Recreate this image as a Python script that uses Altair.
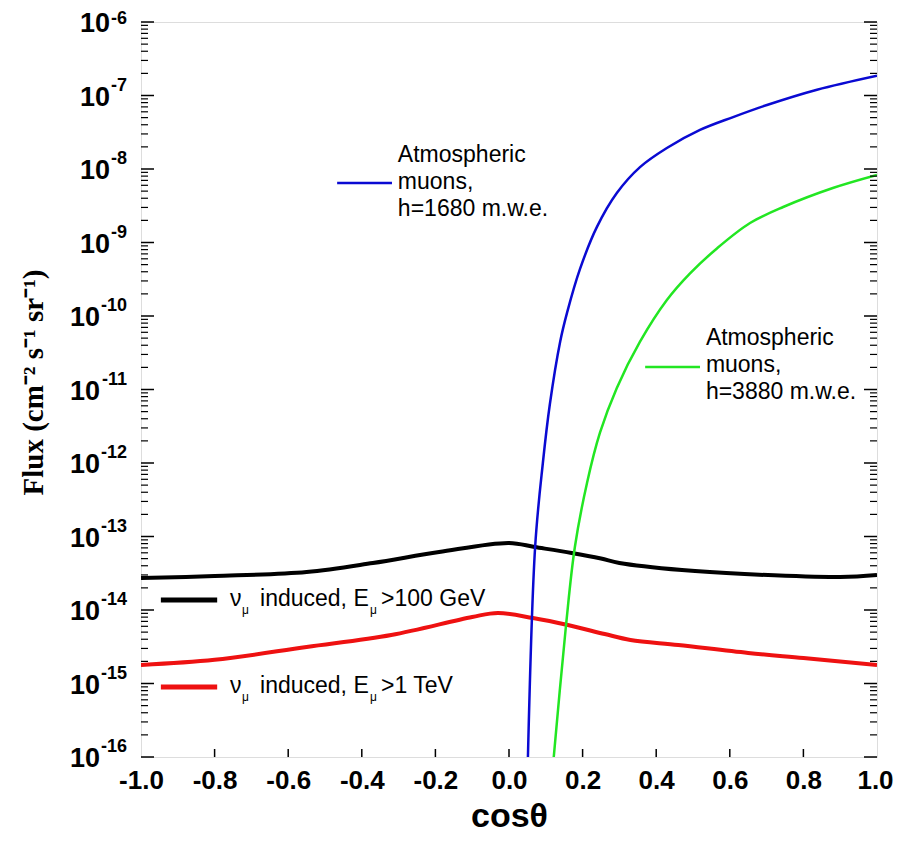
import altair as alt
import pandas as pd

# ---------------- data ----------------
cos_black = [-1.0, -0.8, -0.55, -0.37, -0.19, 0.0, 0.07, 0.17, 0.25, 0.30, 0.47, 0.64, 0.90, 1.0]
flux_black = [2.72e-14, 2.90e-14, 3.29e-14, 4.36e-14, 6.15e-14, 8.17e-14, 7.19e-14,
              5.97e-14, 5.01e-14, 4.37e-14, 3.50e-14, 3.09e-14, 2.81e-14, 2.99e-14]

cos_red = [-1.0, -0.8, -0.55, -0.32, -0.10, -0.03, 0.065, 0.16, 0.26, 0.33, 0.46, 0.65, 0.80, 1.0]
flux_red = [1.79e-15, 2.10e-15, 3.14e-15, 4.57e-15, 8.04e-15, 9.10e-15, 7.78e-15,
            6.25e-15, 4.71e-15, 3.91e-15, 3.34e-15, 2.60e-15, 2.22e-15, 1.79e-15]

cos_blue = [0.050, 0.071, 0.092, 0.111, 0.139, 0.158, 0.193, 0.239, 0.293, 0.356,
            0.429, 0.519, 0.609, 0.701, 0.837, 1.0]
flux_blue = [5.0e-17, 7.19e-14, 1.0e-12, 6.3e-12, 4.47e-11, 1.12e-10, 4.37e-10, 1.63e-9,
             4.71e-9, 1.06e-8, 1.93e-8, 3.40e-8, 5.09e-8, 7.43e-8, 1.20e-7, 1.86e-7]

cos_green = [0.118, 0.155, 0.179, 0.212, 0.247, 0.293, 0.356, 0.429, 0.492, 0.565,
             0.655, 0.745, 0.880, 1.0]
flux_green = [6.3e-17, 6.25e-15, 7.19e-14, 5.35e-13, 2.56e-12, 1.05e-11, 4.47e-11, 1.65e-10,
              3.80e-10, 8.30e-10, 1.84e-9, 3.04e-9, 5.51e-9, 8.3e-9]

x_tick_values = [-1.0, -0.8, -0.6, -0.4, -0.2, 0.0, 0.2, 0.4, 0.6, 0.8, 1.0]
x_inner_ticks = [-0.8, -0.6, -0.4, -0.2, 0.0, 0.2, 0.4, 0.6, 0.8]
exponents = [-16, -15, -14, -13, -12, -11, -10, -9, -8, -7, -6]

# annotation texts
atm_texts = ["Atmospheric\nmuons,\nh=1680 m.w.e.", "Atmospheric\nmuons,\nh=3880 m.w.e."]
atm_text_x = [-0.302, 0.535]
atm_text_y = [1.55e-8, 5.02e-11]
atm_line_x1 = [-0.467, 0.370]
atm_line_x2 = [-0.318, 0.519]
atm_line_y = [6.45e-9, 2.02e-11]
atm_colors = ["#0a0ad2", "#22e622"]

nu_tails = [">100 GeV", ">1 TeV"]
nu_text_x = [-0.758, -0.758]
nu_text_y = [1.41e-14, 9.25e-16]
nu_line_x1 = [-0.946, -0.946]
nu_line_x2 = [-0.793, -0.793]
nu_line_y = [1.37e-14, 8.95e-16]
nu_colors = ["#000000", "#ee1111"]

# ---------------- chart ----------------
W, H = 736, 735
SANS = "Liberation Sans"
SERIF = "Liberation Serif"

xs = alt.Scale(domain=[-1, 1], nice=False, zero=False)
ys = alt.Scale(type="log", domain=[1e-16, 1e-6], nice=False)


def X(field="x"):
    return alt.X(f"{field}:Q", scale=xs)


def Y(field="y"):
    return alt.Y(f"{field}:Q", scale=ys)


def curve(cx, fy, color, width):
    df = pd.DataFrame({"x": cx, "y": fy})
    return alt.Chart(df).mark_line(color=color, strokeWidth=width, clip=True,
                                   interpolate="catmull-rom").encode(x=X(), y=Y())


black_df = pd.DataFrame({"x": cos_black, "y": flux_black})
base = alt.Chart(black_df).mark_line(color="black", strokeWidth=4, clip=True,
                                     interpolate="catmull-rom").encode(
    x=alt.X("x:Q", scale=xs, axis=alt.Axis(
        values=x_tick_values,
        labelExpr="replace(format(datum.value, '.1f'), '\u2212', '-')",
        labelFont=SANS, labelFontWeight="bold", labelFontSize=26, labelColor="black",
        labelPadding=10, labelFlush=False, labelOverlap=False, labelBound=False,
        labelOffset={"condition": {"test": "datum.value == 1", "value": -2}, "value": 0},
        ticks=False, domain=False, grid=False,
        title="cosθ", titleFont=SANS, titleFontWeight="bold", titleFontSize=34,
        titleColor="black", titleY=69, titleBaseline="alphabetic")),
    y=alt.Y("y:Q", scale=ys, axis=alt.Axis(
        labels=False, ticks=False, domain=False, grid=False,
        title="Flux (cm⁻² s⁻¹ sr⁻¹)", titleFont=SERIF, titleFontWeight="bold",
        titleFontSize=29, titleColor="black", titleAngle=270, titleAlign="center",
        titleBaseline="middle", titleX=-108, titleY=360)),
)

red = curve(cos_red, flux_red, "#ee1111", 4)
blue = curve(cos_blue, flux_blue, "#0a0ad2", 2.5)
green = curve(cos_green, flux_green, "#22e622", 2.5)

# y ticks (major at decades, minor at k*10^n), drawn inward on both sides
major_vals = [10.0 ** e for e in exponents]
minor_vals = [k * 10.0 ** e for e in exponents[:-1] for k in range(2, 10)]
maj_df = pd.DataFrame({"y": major_vals})
min_df = pd.DataFrame({"y": minor_vals})
tick_layers = [
    alt.Chart(maj_df).mark_rule(color="black", strokeWidth=1.5).encode(
        y=Y(), x=alt.value(0), x2=alt.value(13)),
    alt.Chart(maj_df).mark_rule(color="black", strokeWidth=1.5).encode(
        y=Y(), x=alt.value(W), x2=alt.value(W - 13)),
    alt.Chart(min_df).mark_rule(color="black", strokeWidth=1.2).encode(
        y=Y(), x=alt.value(0), x2=alt.value(7)),
    alt.Chart(min_df).mark_rule(color="black", strokeWidth=1.2).encode(
        y=Y(), x=alt.value(W), x2=alt.value(W - 7)),
    alt.Chart(pd.DataFrame({"x": x_inner_ticks})).mark_rule(color="black", strokeWidth=1.5).encode(
        x=X(), y=alt.value(H), y2=alt.value(H - 8)),
]

# y labels 10^n drawn as text with superscript exponents
lab_df = pd.DataFrame({"y": major_vals, "e": [str(e) for e in exponents],
                       "nd": [len(str(abs(e))) for e in exponents]})
lab_base = alt.Chart(lab_df)
exp_style = dict(align="right", baseline="alphabetic", font=SANS, fontWeight="bold",
                 fontSize=18, color="black")
exp_layer = lab_base.transform_filter("datum.e != '-6'").mark_text(dy=-5, **exp_style).encode(
    y=Y(), x=alt.value(-14), text="e:N")
exp_top = lab_base.transform_filter("datum.e == '-6'").mark_text(dy=2, **exp_style).encode(
    y=Y(), x=alt.value(-14), text="e:N")
ten1 = lab_base.transform_filter("datum.nd == 1").mark_text(
    align="right", baseline="alphabetic", dy=10, font=SANS, fontWeight="bold",
    fontSize=27, color="black", text="10").encode(y=Y(), x=alt.value(-31))
ten2 = lab_base.transform_filter("datum.nd == 2").mark_text(
    align="right", baseline="alphabetic", dy=10, font=SANS, fontWeight="bold",
    fontSize=27, color="black", text="10").encode(y=Y(), x=alt.value(-41))

# atmospheric muon annotations
atm_df = pd.DataFrame({"x": atm_text_x, "y": atm_text_y, "t": atm_texts,
                       "x1": atm_line_x1, "x2": atm_line_x2, "ly": atm_line_y,
                       "c": atm_colors})
atm_text = alt.Chart(atm_df).mark_text(align="left", baseline="middle", font=SANS,
                                       fontSize=23, lineBreak="\n", lineHeight=27,
                                       color="black").encode(x=X(), y=Y(), text="t:N")
atm_lines = alt.Chart(atm_df).mark_rule(strokeWidth=2.5).encode(
    x=X("x1"), x2="x2:Q", y=Y("ly"), color=alt.Color("c:N", scale=None))

# neutrino-induced legend entries
nu_df = pd.DataFrame({"x": nu_text_x, "y": nu_text_y, "tail": nu_tails,
                      "x1": nu_line_x1, "x2": nu_line_x2, "ly": nu_line_y,
                      "c": nu_colors})
nb = alt.Chart(nu_df)
tstyle = dict(align="left", baseline="middle", font=SANS, color="black")
nu_layers = [
    nb.mark_rule(strokeWidth=5).encode(x=X("x1"), x2="x2:Q", y=Y("ly"),
                                       color=alt.Color("c:N", scale=None)),
    nb.mark_text(text="ν", fontSize=23, **tstyle).encode(x=X(), y=Y()),
    nb.mark_text(text="μ", fontSize=12, dx=12, dy=11, **tstyle).encode(x=X(), y=Y()),
    nb.mark_text(text="induced, E", fontSize=23, dx=30, **tstyle).encode(x=X(), y=Y()),
    nb.mark_text(text="μ", fontSize=12, dx=140, dy=11, **tstyle).encode(x=X(), y=Y()),
    nb.mark_text(fontSize=23, dx=151, **tstyle).encode(x=X(), y=Y(), text="tail:N"),
]

chart = alt.layer(
    base, red, blue, green, *tick_layers, exp_layer, exp_top, ten1, ten2,
    atm_lines, atm_text, *nu_layers
).properties(
    width=W, height=H,
    autosize=alt.AutoSizeParams(type="none"),
    padding={"left": 133, "top": 14, "right": 17, "bottom": 77},
).configure_view(stroke="black", strokeWidth=2).configure(background="white")

chart.save("out.html", embed_options={"renderer": "svg", "actions": False})
